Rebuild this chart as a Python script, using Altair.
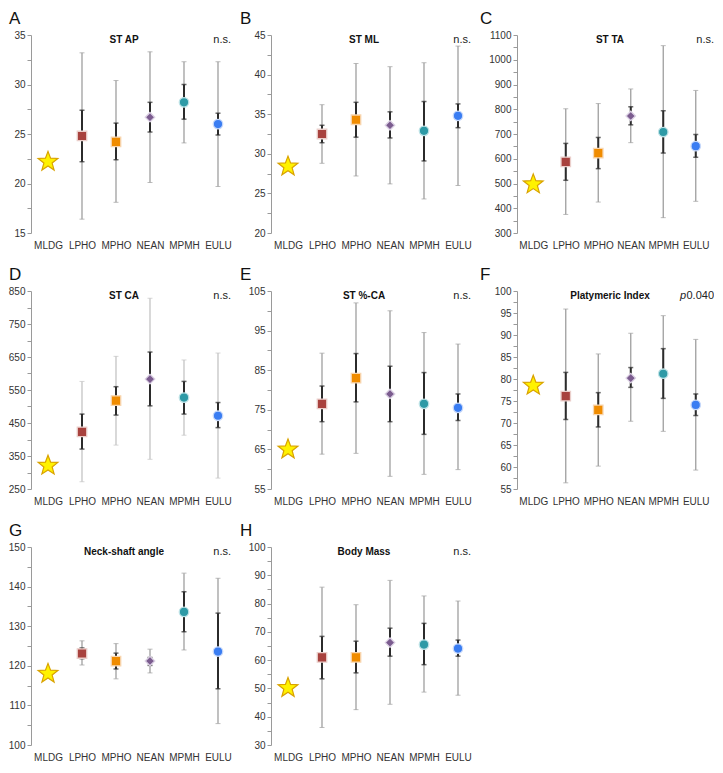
import altair as alt
import pandas as pd

FONT = "Liberation Sans"

groups = ["MLDG", "LPHO", "MPHO", "NEAN", "MPMH", "EULU"]
fills = ["#FFF200", "#A8423E", "#F08C00", "#7B5C8F", "#2E9AA6", "#3A7DF2"]
halos = ["#D9A200", "#EBCFCB", "#F8D6B0", "#DCD2E4", "#BDE2E6", "#C6D8FA"]
shapes = ["square", "square", "diamond", "circle", "circle"]
STAR = ("M0,-1L0.247,-0.34L0.951,-0.309L0.399,0.13L0.588,0.809L0,0.42"
        "L-0.588,0.809L-0.399,0.13L-0.951,-0.309L-0.247,-0.34Z")

letters = ["A", "B", "C", "D", "E", "F", "G", "H"]
titles = ["ST AP", "ST ML", "ST TA", "ST CA", "ST %-CA", "Platymeric Index",
          "Neck-shaft angle", "Body Mass"]
signif = ["n.s.", "n.s.", "n.s.", "n.s.", "n.s.", "0.040", "n.s.", "n.s."]
y_lo = [15, 20, 300, 250, 55, 55, 100, 30]
y_hi = [35, 45, 1100, 850, 105, 100, 150, 100]
y_step = [5, 5, 100, 100, 10, 5, 10, 10]

# group means (MLDG, LPHO, MPHO, NEAN, MPMH, EULU)
means = [
    [22.2, 24.8, 24.2, 26.7, 28.2, 26.0],
    [28.4, 32.5, 34.3, 33.6, 32.9, 34.8],
    [497, 587, 623, 773, 708, 651],
    [321, 423, 518, 583, 527, 472],
    [65.0, 76.5, 83.0, 79.0, 76.5, 75.5],
    [78.5, 76.1, 73.0, 80.2, 81.2, 74.1],
    [118.0, 123.1, 121.2, 121.2, 133.6, 123.6],
    [50.2, 61.0, 61.0, 66.2, 65.5, 64.1],
]
# ranges for LPHO, MPHO, NEAN, MPMH, EULU
mins = [
    [16.4, 18.1, 20.1, 24.1, 19.7],
    [28.8, 27.2, 26.2, 24.3, 26.0],
    [375, 425, 665, 362, 428],
    [272, 383, 340, 413, 283],
    [63.8, 64.0, 58.2, 58.7, 59.9],
    [56.4, 60.2, 70.4, 68.1, 59.3],
    [120.2, 116.7, 118.2, 124.0, 105.4],
    [36.2, 42.5, 44.4, 48.7, 47.6],
]
maxs = [
    [33.2, 30.4, 33.3, 32.3, 32.3],
    [36.2, 41.4, 41.0, 41.5, 43.6],
    [802, 823, 882, 1057, 876],
    [576, 652, 828, 641, 662],
    [89.3, 102.0, 100.0, 94.5, 91.6],
    [95.9, 85.7, 90.4, 94.4, 89.0],
    [126.3, 125.6, 124.2, 143.4, 142.1],
    [85.8, 79.6, 88.2, 82.7, 80.9],
]
ci_lo = [
    [22.2, 22.4, 25.2, 26.5, 24.9],
    [31.4, 32.1, 32.0, 29.1, 33.3],
    [513, 560, 737, 623, 606],
    [371, 474, 502, 477, 436],
    [72.0, 77.0, 72.0, 68.8, 72.3],
    [70.8, 69.1, 78.1, 75.6, 71.7],
    [121.8, 119.2, 120.1, 128.6, 114.2],
    [53.4, 55.5, 61.4, 58.4, 61.4],
]
ci_hi = [
    [27.4, 26.1, 28.2, 30.0, 27.1],
    [33.6, 36.5, 35.3, 36.6, 36.3],
    [662, 686, 810, 794, 698],
    [477, 560, 665, 576, 512],
    [81.0, 89.2, 86.0, 84.4, 79.0],
    [81.5, 76.9, 82.6, 86.9, 76.6],
    [124.5, 123.2, 122.1, 138.7, 133.3],
    [68.4, 66.7, 71.3, 73.0, 67.1],
]

W = [204, 204, 195]
H = 198
letter_x = [-22, -31, -37]
AXW = [22, 22, 30]
GRAY = ["#9f9f9f"] * 8
GRAY[3] = "#c4c4c4"


def panel(i):
    col = i % 3
    width = W[col]
    lo, hi, step = y_lo[i], y_hi[i], y_step[i]
    vals = []
    v = lo
    while v <= hi + 1e-9:
        vals.append(v)
        v += step / 2
    major = f"(datum.value - {lo}) % {step} == 0"
    xenc = alt.X("group:N", sort=groups,
                 scale=alt.Scale(type="point", domain=groups, padding=0.5),
                 axis=alt.Axis(title=None, domain=False, ticks=False, labelAngle=0,
                               labelFontSize=10, labelPadding=7, labelColor="#333",
                               labelFont=FONT))
    yscale = alt.Scale(domain=[lo, hi], nice=False, zero=False)
    yaxis = alt.Axis(title=None, values=vals, grid=False, format="d",
                     labelExpr=f"{major} ? datum.label : ''",
                     labelOverlap=False, domainColor="#9a9a9a", tickColor="#9a9a9a",
                     tickSize=4, minExtent=AXW[col], maxExtent=AXW[col],
                     labelFontSize=10, labelPadding=2, labelColor="#333", labelFont=FONT)

    def Y(f):
        return alt.Y(f, scale=yscale, axis=yaxis)

    rng = pd.DataFrame({"group": groups[1:], "mn": mins[i], "mx": maxs[i],
                        "lo": ci_lo[i], "hi": ci_hi[i]})
    star_df = pd.DataFrame({"group": groups[:1], "value": means[i][:1]})
    pts = pd.DataFrame({"group": groups[1:], "value": means[i][1:]})
    base = alt.Chart(rng)
    gray = base.mark_rule(color=GRAY[i], strokeWidth=1.3).encode(x=xenc, y=Y("mn:Q"), y2="mx")
    gcap1 = base.mark_tick(color=GRAY[i], thickness=1, size=5).encode(x=xenc, y=Y("mn:Q"))
    gcap2 = base.mark_tick(color=GRAY[i], thickness=1, size=5).encode(x=xenc, y=Y("mx:Q"))
    blk = base.mark_rule(color="#2b2b2b", strokeWidth=2).encode(x=xenc, y=Y("lo:Q"), y2="hi")
    bcap1 = base.mark_tick(color="#2b2b2b", thickness=1.5, size=5).encode(x=xenc, y=Y("lo:Q"))
    bcap2 = base.mark_tick(color="#2b2b2b", thickness=1.5, size=5).encode(x=xenc, y=Y("hi:Q"))
    star = alt.Chart(star_df).mark_point(
        shape=STAR, size=430, filled=True, opacity=1, fill=fills[0], stroke=halos[0],
        strokeWidth=1.2
    ).encode(x=xenc, y=Y("value:Q"))
    points = alt.Chart(pts).mark_point(filled=True, opacity=1, strokeWidth=1.3, size=90).encode(
        x=xenc, y=Y("value:Q"),
        shape=alt.Shape("group:N", scale=alt.Scale(domain=groups[1:], range=shapes), legend=None),
        fill=alt.Fill("group:N", scale=alt.Scale(domain=groups[1:], range=fills[1:]), legend=None),
        stroke=alt.Stroke("group:N", scale=alt.Scale(domain=groups[1:], range=halos[1:]),
                          legend=None),
    )
    lt = alt.Chart(pd.DataFrame({"t": [letters[i]]})).mark_text(
        align="left", baseline="top", fontSize=17, font=FONT, color="#111"
    ).encode(text="t:N", x=alt.value(letter_x[col]), y=alt.value(-24))
    tt = alt.Chart(pd.DataFrame({"t": [titles[i]]})).mark_text(
        align="center", baseline="middle", fontSize=10, fontWeight="bold", font=FONT, color="#111"
    ).encode(text="t:N", x=alt.value(93), y=alt.value(5))
    layers = [gray, gcap1, gcap2, blk, bcap1, bcap2, star, points, lt, tt]
    sx = 200 if col < 2 else width + 2
    st = alt.Chart(pd.DataFrame({"t": [signif[i]]})).mark_text(
        align="right", baseline="middle", fontSize=11, font=FONT, color="#222"
    ).encode(text="t:N", x=alt.value(sx), y=alt.value(5))
    layers.append(st)
    if signif[i] != "n.s.":
        sp = alt.Chart(pd.DataFrame({"t": ["p"]})).mark_text(
            align="right", baseline="middle", fontSize=11, font=FONT, fontStyle="italic",
            color="#222"
        ).encode(text="t:N", x=alt.value(sx - 28), y=alt.value(5))
        layers.append(sp)
    return alt.layer(*layers).properties(width=width, height=H)


charts = [panel(i) for i in range(8)]
rows = [alt.hconcat(*charts[k:k + 3], spacing=5) for k in (0, 3, 6)]
chart = alt.vconcat(*rows, spacing=16).properties(
    padding={"top": 2, "left": 0, "right": 0, "bottom": 0}
).configure_view(strokeWidth=0)

chart.save("out.html", embed_options={"renderer": "svg", "actions": False})
